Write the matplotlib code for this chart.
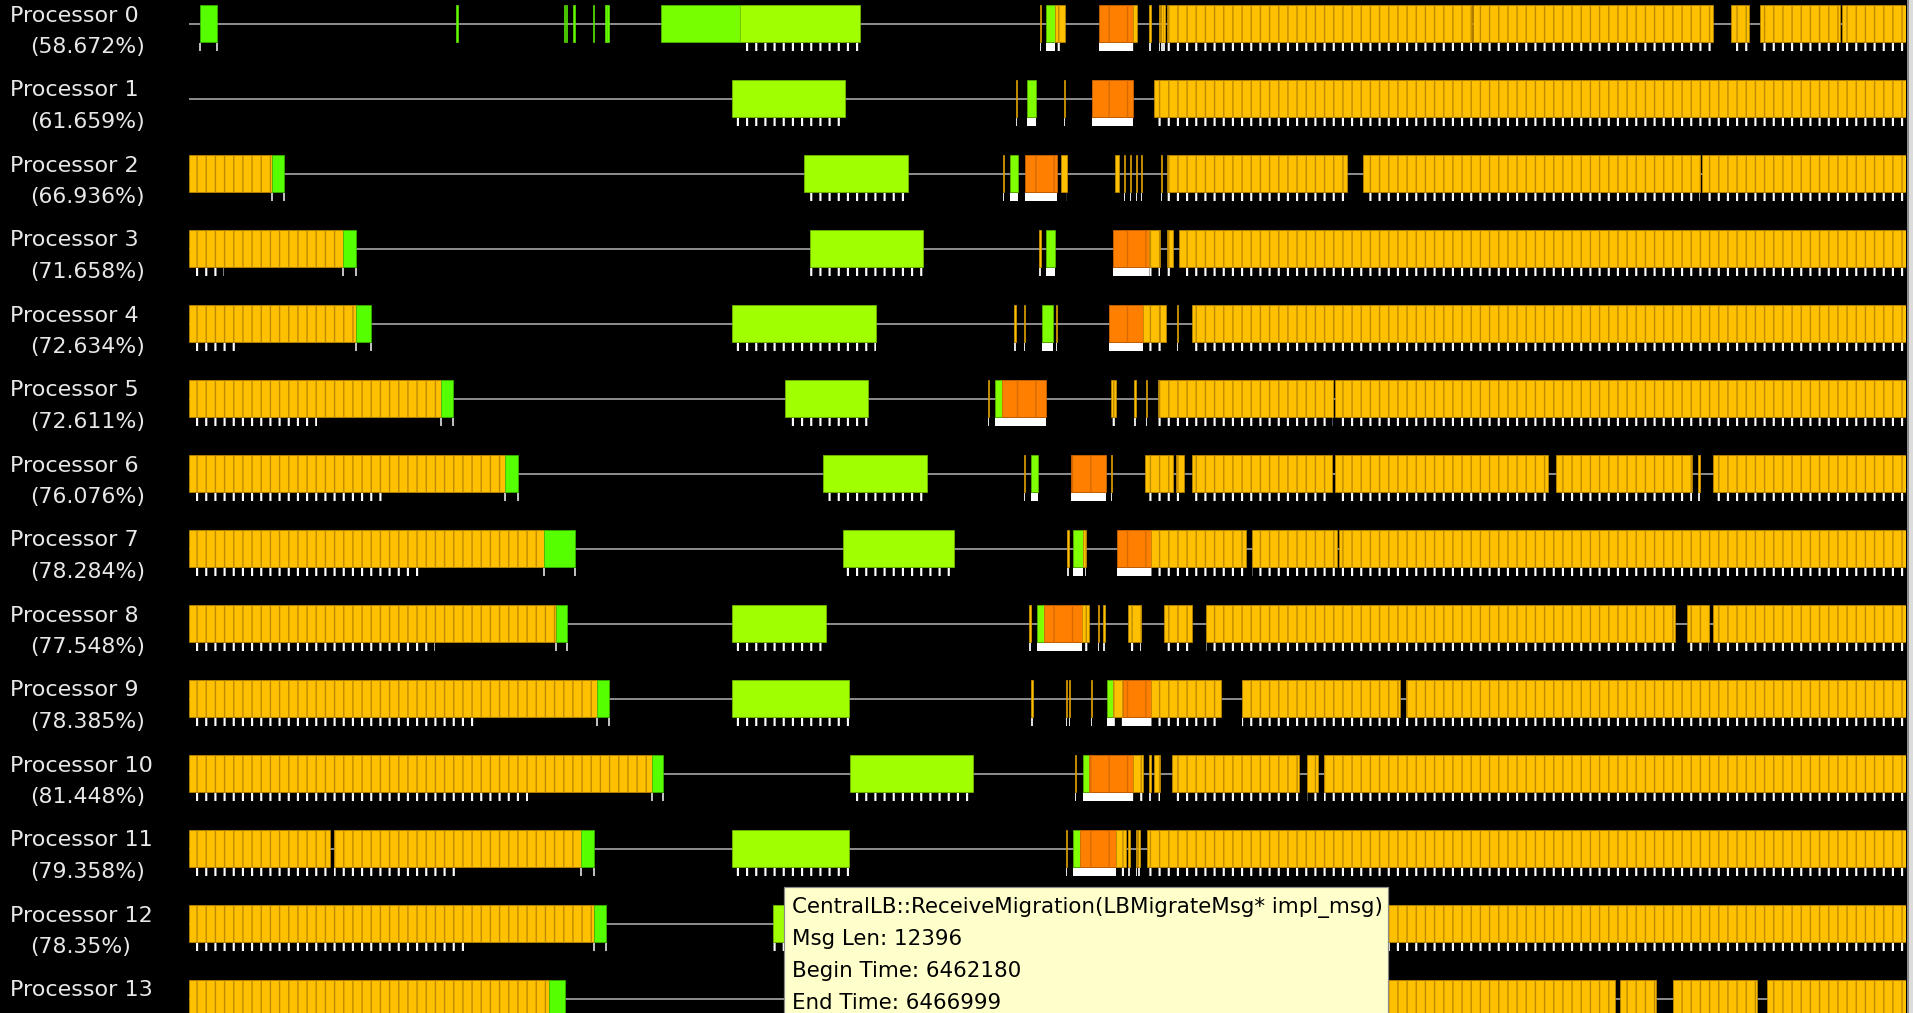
import matplotlib
matplotlib.use("Agg")
import matplotlib.pyplot as plt
from matplotlib.patches import Rectangle

# ---------------------------------------------------------------------------
# Timeline data: per-processor entry-method executions (start, end, kind).
# Time axis is in display time units of the Projections view.
# ---------------------------------------------------------------------------
T_START, T_END = 155.0, 1562.3
THIN = 1.2  # duration of a very short entry

processors = ["Processor %d" % i for i in range(14)]
utilization = ["58.672", "61.659", "66.936", "71.658", "72.634", "72.611", "76.076",
               "78.284", "77.548", "78.385", "81.448", "79.358", "78.35", ""]

# time after which no message sends appear under the first compute phase
send_cutoff = [155, 155, 155, 184, 198, 260, 315, 346, 357, 390, 433, 376, 385, 390]

P0 = [(164, 178, "end"), (374, None, "endthin"), (462, None, "endthin"), (464, None, "endthin"),
      (470, None, "endthin"), (486, None, "endthin"), (496, None, "endthin"), (498, None, "endthin"),
      (542, 607, "lb"), (607, 705, "mig"),
      (852.5, None, "thin"), (857.7, 865, "recv"), (865, 873, "work"),
      (901, 928.4, "unpack"), (928.4, 932, "work"),
      (942, None, "thin"), (950, None, "thin"), (951.8, None, "thin"), (953.6, None, "thin"),
      (956.8, 1206.4, "work"), (1207.2, 1403.8, "work"), (1419, 1433.5, "work"),
      (1442.5, 1508.4, "work"), (1509.6, 1562.3, "work")]
P1 = [(600, 693, "mig"), (832.8, None, "thin"), (841.8, 849.5, "recv"), (872.1, None, "thin"),
      (894.8, 929, "unpack"), (946.2, 1562.3, "work")]
P2 = [(155.2, 223, "work"), (223, 232.8, "end"), (659, 744.7, "mig"),
      (821.9, None, "thin"), (827.9, 834.2, "recv"), (840.2, 866.7, "unpack"), (870, 874.3, "work"),
      (914, 917.5, "work"), (921.3, None, "thin"), (926.2, None, "thin"), (931.1, None, "thin"),
      (935.2, None, "thin"), (951.6, None, "thin"),
      (956.8, 1103.8, "work"), (1117.2, 1393.5, "work"), (1395.4, 1562.3, "work")]
P3 = [(155.2, 281.3, "work"), (281.3, 291.6, "end"), (664, 757, "mig"),
      (852, None, "thin"), (857.7, 865, "recv"), (912, 942, "unpack"), (942, 950.8, "work"),
      (957, 961.7, "work"), (966.7, 1562.3, "work")]
P4 = [(155.2, 292, "work"), (292, 304.4, "end"), (600, 718, "mig"),
      (831.4, None, "thin"), (839.3, None, "thin"), (854.4, 863.4, "recv"), (865.6, None, "thin"),
      (909, 937.2, "unpack"), (937.2, 950.8, "work"), (951.2, 955.5, "work"),
      (964.5, None, "thin"), (977.3, 1562.3, "work")]
P5 = [(155.2, 361.9, "work"), (361.9, 371.3, "end"), (643.5, 711.7, "mig"),
      (809.5, None, "thin"), (815.6, 821, "recv"), (821, 857.4, "unpack"),
      (910.7, 914.8, "work"), (929.8, None, "thin"), (939.3, None, "thin"),
      (949.5, 1093, "work"), (1094.6, 1562.3, "work")]
P6 = [(155.2, 414.2, "work"), (414.2, 424.5, "end"), (674.8, 759.8, "mig"),
      (839.4, None, "thin"), (844.8, 851.1, "recv"), (877.6, 906.6, "unpack"), (910.4, None, "thin"),
      (938.5, 961.8, "work"), (964, 970.8, "work"), (977.3, 1092, "work"),
      (1094.6, 1268.9, "work"), (1275.7, 1387.3, "work"), (1392.2, None, "thin"),
      (1404.4, 1562.3, "work")]
P7 = [(155.2, 446.3, "work"), (446.3, 471.2, "end"), (690.7, 782, "mig"),
      (874.9, None, "thin"), (879.2, 887.4, "recv"), (887.4, 890.2, "work"),
      (915.3, 943.2, "unpack"), (943.2, 1021, "work"), (1026, 1096.2, "work"),
      (1097.9, 1562.3, "work")]
P8 = [(155.2, 455.7, "work"), (455.7, 465.2, "end"), (600, 677.4, "mig"),
      (843.7, None, "thin"), (849.7, 855.7, "recv"), (855.7, 886.6, "unpack"), (886.6, 892.9, "work"),
      (899.7, None, "thin"), (904.4, None, "thin"), (924.3, 935.2, "work"), (953.8, 977.3, "work"),
      (988.2, 1372.8, "work"), (1382.8, 1401.2, "work"), (1404.4, 1562.3, "work")]
P9 = [(155.2, 489.2, "work"), (489.2, 499, "end"), (600, 696.2, "mig"),
      (845.4, None, "thin"), (873.5, None, "thin"), (876.2, None, "thin"), (894, None, "thin"),
      (907.7, 912.6, "recv"), (912.6, 920.8, "work"), (920.8, 943.2, "unpack"),
      (943.2, 1000.5, "work"), (1018.3, 1147.9, "work"), (1152.7, 1562.3, "work")]
P10 = [(155.2, 534.3, "work"), (534.3, 543.2, "end"), (696.7, 797.9, "mig"),
       (881.2, None, "thin"), (887.4, 892.9, "recv"), (892.9, 928.4, "unpack"), (928.4, 936.6, "work"),
       (942, None, "thin"), (946.2, 950.8, "work"), (960.4, 1064.7, "work"),
       (1071.4, 1080.1, "work"), (1085.6, 1562.3, "work")]
P11 = [(155.2, 270.6, "work"), (273.6, 476.3, "work"), (476.3, 487, "end"), (600, 696.2, "mig"),
       (873.5, None, "thin"), (879.2, 885.3, "recv"), (885.3, 914.8, "unpack"), (914.8, 922.7, "work"),
       (924.9, None, "thin"), (930.9, None, "thin"), (933.1, None, "thin"), (939.9, 1562.3, "work")]
P12 = [(155.2, 487, "work"), (487, 497, "end"), (634, 720, "mig"), (1110, 1562.3, "work")]
P13 = [(155.2, 449.8, "work"), (449.8, 463.5, "end"), (1120, 1323.8, "work"),
       (1327.6, 1357, "work"), (1371.5, 1440, "work"), (1448.7, 1562.3, "work")]

events = [P0, P1, P2, P3, P4, P5, P6, P7, P8, P9, P10, P11, P12, P13]

tooltip_lines = ["CentralLB::ReceiveMigration(LBMigrateMsg* impl_msg)",
                 "Msg Len: 12396",
                 "Begin Time: 6462180",
                 "End Time: 6466999"]

# ---------------------------------------------------------------------------
# Styling
# ---------------------------------------------------------------------------
W_PX, H_PX, DPI = 1913, 1013, 110
PT = 72.0 / DPI  # points per pixel

plt.rcParams["hatch.linewidth"] = 0.9
plt.rcParams["font.family"] = ["DejaVu Sans"]

STYLE = {
    "work":    dict(face="#FFC000", edge="#C08A00", hatch="||"),
    "thin":    dict(face="#FFC000", edge="#D89A00", hatch=None),
    "end":     dict(face="#55FF00", edge="#3DB800", hatch=None),
    "endthin": dict(face="#66FF00", edge="#55DD00", hatch=None),
    "lb":      dict(face="#77FF00", edge="#55C000", hatch=None),
    "mig":     dict(face="#A0FF00", edge="#78C000", hatch=None),
    "recv":    dict(face="#80FF00", edge="#5DBA00", hatch=None),
    "unpack":  dict(face="#FF8000", edge="#D86A00", hatch="|"),
}

ROW_PITCH, BAR_TOP, BAR_H = 75.0, 5.0, 37.0
TICK_GAP, TICK_H = 1.0, 8.0
TICK_HATCH_LW = 1.4


def send_marks(ax, ts, te, y):
    """White tick marks for message sends beneath an entry."""
    with plt.rc_context({"hatch.linewidth": TICK_HATCH_LW}):
        bars = ax.bar(ts, TICK_H, width=te - ts, bottom=y, align="edge",
                      color="none", edgecolor="white", hatch="||", linewidth=0, zorder=2)
    for b in bars:
        if hasattr(b, "set_hatch_linewidth"):
            b.set_hatch_linewidth(TICK_HATCH_LW)


fig = plt.figure(figsize=(W_PX / DPI, H_PX / DPI), dpi=DPI, facecolor="black")
x0_px, x1_px = 189.0, 1906.0
ax = fig.add_axes([x0_px / W_PX, 0, (x1_px - x0_px) / W_PX, 1])
ax.set_facecolor("black")
ax.set_xlim(T_START, T_END)
ax.set_ylim(H_PX, 0)
ax.axis("off")

for p, evs in enumerate(events):
    top = BAR_TOP + p * ROW_PITCH
    mid = top + BAR_H / 2.0
    tick_top = top + BAR_H + TICK_GAP
    ax.hlines(mid, T_START, T_END, color="#8a8a8a", lw=2.0 * PT, zorder=1)

    first_end = min((s for s, e, k in evs if k == "end"), default=T_START)
    for s, e, k in evs:
        if e is None:
            e = s + THIN
        st = STYLE[k]
        ax.bar(s, BAR_H, width=e - s, bottom=top, align="edge",
               color=st["face"], edgecolor=st["edge"], hatch=st["hatch"],
               linewidth=0.7 * PT, zorder=3)

        # message-send markers beneath the entry
        if k in ("work", "mig"):
            ts, te = s, e
            if k == "work" and e <= first_end:
                te = min(e, send_cutoff[p])
            if te > ts:
                send_marks(ax, ts, te, tick_top)
        elif k in ("recv", "unpack"):
            ax.bar(s, TICK_H, width=e - s, bottom=tick_top, align="edge",
                   color="white", linewidth=0, zorder=2)
        elif k == "thin":
            ax.bar(s, TICK_H, width=e - s, bottom=tick_top, align="edge",
                   color="#dddddd", linewidth=0, zorder=2)
        elif k == "end":
            ax.vlines([s, e], tick_top, tick_top + TICK_H, color="#eeeeee", lw=1.6 * PT, zorder=2)

    # processor label and utilisation
    fig.text(10 / W_PX, 1 - (top + 10.5) / H_PX, processors[p], color="#e8e8e8",
             fontsize=14.6, ha="left", va="center")
    if utilization[p]:
        fig.text(30 / W_PX, 1 - (top + 42) / H_PX, "(%s%%)" % utilization[p], color="#e8e8e8",
                 fontsize=14.4, ha="left", va="center")

# right-hand border of the scroll pane
fig.add_artist(Rectangle((1906.5 / W_PX, 0), 7 / W_PX, 1, transform=fig.transFigure,
                         facecolor="#dcdcdc", edgecolor="none"))
fig.add_artist(Rectangle((1906.5 / W_PX, 0), 2 / W_PX, 1, transform=fig.transFigure,
                         facecolor="#8c8c8c", edgecolor="none"))

# hover tooltip
tx0, tx1, ty0 = 784.0, 1388.0, 887.0
fig.add_artist(Rectangle((tx0 / W_PX, -0.02), (tx1 - tx0) / W_PX, (H_PX - ty0) / H_PX + 0.02,
                         transform=fig.transFigure, facecolor="#FFFFCC",
                         edgecolor="#8a8a8a", linewidth=1.2 * PT, zorder=10))
for i, line in enumerate(tooltip_lines):
    fig.text(792 / W_PX, 1 - (907.7 + 31.7 * i) / H_PX, line, color="black",
             fontsize=14.0, ha="left", va="center", zorder=11)

fig.savefig("out.png", dpi=DPI, facecolor="black")
